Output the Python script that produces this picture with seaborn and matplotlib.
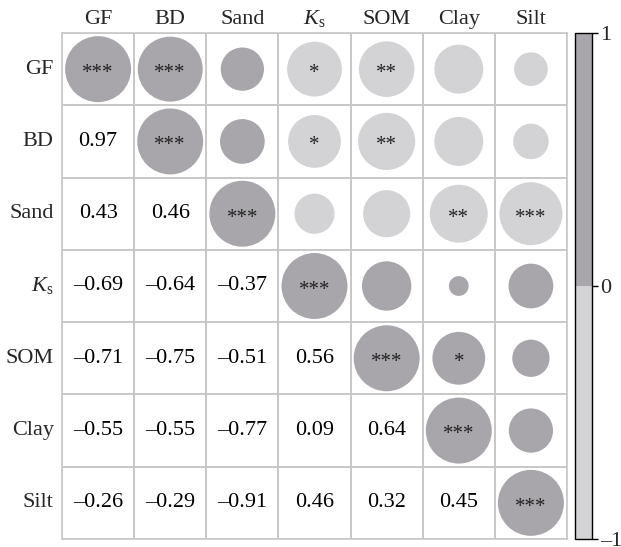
import numpy as np
import pandas as pd
import matplotlib
matplotlib.use("Agg")
import matplotlib.pyplot as plt
from matplotlib.colors import ListedColormap, BoundaryNorm
import matplotlib.cm as cm
import seaborn as sns

# ---- data ----
labels = ["GF", "BD", "Sand", r"$K_\mathrm{s}$", "SOM", "Clay", "Silt"]
low_GF = []
low_BD = [0.97]
low_Sand = [0.43, 0.46]
low_Ks = [-0.69, -0.64, -0.37]
low_SOM = [-0.71, -0.75, -0.51, 0.56]
low_Clay = [-0.55, -0.55, -0.77, 0.09, 0.64]
low_Silt = [-0.26, -0.29, -0.91, 0.46, 0.32, 0.45]

sig_GF = ["***", "***", "", "*", "**", "", ""]
sig_BD = ["***", "", "*", "**", "", ""]
sig_Sand = ["***", "", "", "**", "***"]
sig_Ks = ["***", "", "", ""]
sig_SOM = ["***", "*", ""]
sig_Clay = ["***", ""]
sig_Silt = ["***"]

cbar_ticks = [-1, 0, 1]
cbar_ticklabels = ["\u20131", "0", "1"]

lows = [low_GF, low_BD, low_Sand, low_Ks, low_SOM, low_Clay, low_Silt]
sigs = [sig_GF, sig_BD, sig_Sand, sig_Ks, sig_SOM, sig_Clay, sig_Silt]

n = len(labels)
corr = np.eye(n)
for i, row in enumerate(lows):
    for j, v in enumerate(row):
        corr[i, j] = v
        corr[j, i] = v

DARK = "#a8a6ab"
LIGHT = "#d3d3d5"
GRID = "#c8c8c8"

sns.set_theme(style="white")
plt.rcParams["font.family"] = ["Liberation Serif", "DejaVu Serif"]
plt.rcParams["mathtext.fontset"] = "custom"
plt.rcParams["mathtext.rm"] = "Liberation Serif"
plt.rcParams["mathtext.it"] = "Liberation Serif:italic"

fig = plt.figure(figsize=(6.21, 5.47), dpi=100)
ax = fig.add_axes([62 / 621, 1 - 539 / 547, 505 / 621, 506 / 547])
cax = fig.add_axes([575 / 621, 1 - 539 / 547, 17 / 621, 506 / 547])

# annotation strings (lower triangle)
annot = np.full((n, n), "", dtype=object)
for i in range(n):
    for j in range(i):
        annot[i, j] = f"{corr[i, j]:.2f}".replace("-", "\u2013")

sns.heatmap(np.zeros((n, n)), cmap=ListedColormap(["white"]), cbar=False,
            annot=annot, fmt="", linewidths=1.2, linecolor=GRID,
            annot_kws={"color": "black", "fontsize": 16}, ax=ax,
            xticklabels=labels, yticklabels=labels)

# circles (upper triangle incl. diagonal)
rows, cols, vals = [], [], []
for i in range(n):
    for j in range(i, n):
        rows.append(i + 0.5)
        cols.append(j + 0.5)
        vals.append(corr[i, j])
df = pd.DataFrame({"x": cols, "y": rows, "r": vals})
df["absr"] = df["r"].abs()
df["sign"] = np.where(df["r"] >= 0, "pos", "neg")
sns.scatterplot(data=df, x="x", y="y", size="absr", sizes=(0, 2256),
                size_norm=(0, 1), hue="sign",
                palette={"pos": DARK, "neg": LIGHT}, linewidth=0,
                legend=False, ax=ax, zorder=2)

for i in range(n):
    for k, s in enumerate(sigs[i]):
        j = i + k
        if s:
            ax.text(j + 0.5, i + 0.56, s, ha="center", va="center",
                    fontsize=15, color="#222222", zorder=3)

ax.set_xlim(0, n)
ax.set_ylim(n, 0)
ax.set_xlabel("")
ax.set_ylabel("")
ax.xaxis.tick_top()
ax.tick_params(axis="x", length=0, labelsize=16, pad=3)
ax.tick_params(axis="y", length=0, labelsize=16, pad=6)
ax.set_yticklabels(labels, rotation=0)
ax.set_xticklabels(labels, rotation=0)
for sp in ax.spines.values():
    sp.set_visible(True)
    sp.set_color(GRID)
    sp.set_linewidth(1.2)

# colorbar
cmap2 = ListedColormap([LIGHT, DARK])
norm2 = BoundaryNorm([-1, 0, 1], cmap2.N)
cb = fig.colorbar(cm.ScalarMappable(norm=norm2, cmap=cmap2), cax=cax,
                  ticks=cbar_ticks)
cb.ax.set_yticklabels(cbar_ticklabels)
cb.ax.tick_params(labelsize=16, length=4, width=1, color="black",
                  direction="out", pad=2)
cb.ax.get_yticklabels()[0].set_va("center_baseline")
cb.outline.set_edgecolor("black")
cb.outline.set_linewidth(1)

fig.savefig("out.png", dpi=100)
